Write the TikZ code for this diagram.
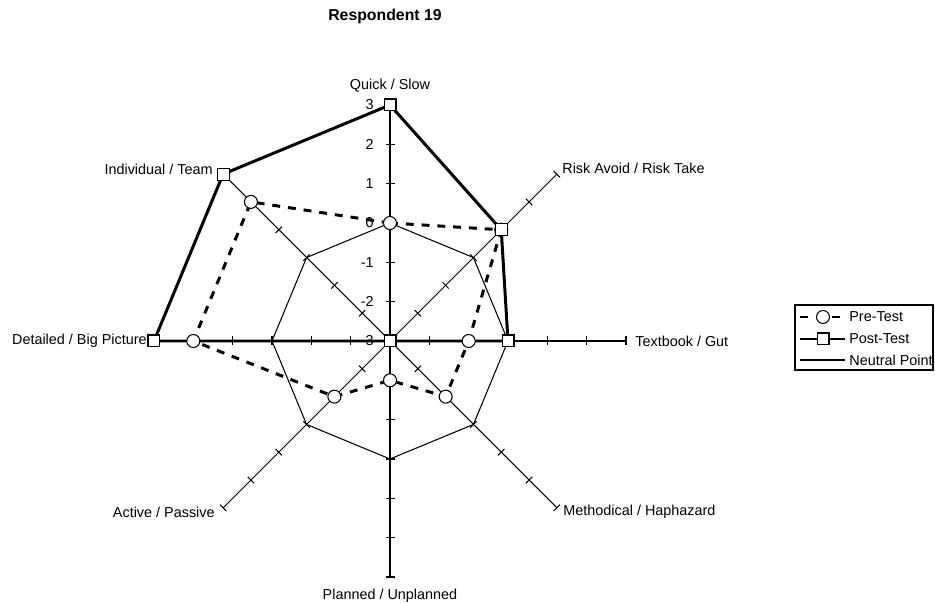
\documentclass[tikz,border=0pt]{standalone}
\usepackage{fontspec}
\setmainfont{Liberation Sans}
\begin{document}
\begin{tikzpicture}[x=0.02cm,y=0.02cm,
    font=\fontsize{8.2}{10}\selectfont,
    axis/.style={line width=0.6pt},
    neutral/.style={line width=0.6pt},
    pretest/.style={line width=1.7pt,dash pattern=on 4.5pt off 4.5pt},
    posttest/.style={line width=1.7pt},
    premark/.style={circle,draw,fill=white,line width=0.6pt,inner sep=0pt,minimum size=7.4pt},
    postmark/.style={rectangle,draw,fill=white,line width=0.6pt,inner sep=0pt,minimum size=6.8pt},
    axlabel/.style={inner sep=0pt}]

      \useasboundingbox (-390,-263) rectangle (545,341);

      \node[font=\fontsize{9}{11}\selectfont\bfseries] (title) at (-5,325) {Respondent 19};

      % axes
      \coordinate (o) at (0,0);
      \coordinate (quick)  at (90:236);
      \coordinate (risk)   at (45:236);
      \coordinate (book)   at (0:236);
      \coordinate (method) at (-45:236);
      \coordinate (plan)   at (-90:236);
      \coordinate (active) at (-135:236);
      \coordinate (detail) at (180:236);
      \coordinate (indiv)  at (135:236);

      \begin{scope}[every path/.style={axis}]
        \path (o) edge (quick);
        \path (o) edge (risk);
        \path (o) edge (book);
        \path (o) edge (method);
        \path (o) edge (plan);
        \path (o) edge (active);
        \path (o) edge (detail);
        \path (o) edge (indiv);
      \end{scope}
      \foreach \a in {0,45,...,315}
        \foreach \k in {1,...,6}
          \draw[axis,rotate=\a] (\k*39.33,-4.5) -- (\k*39.33,4.5);

      \foreach \v in {-3,...,3}
        \node[axlabel,anchor=east] at (-16,{(\v+3)*39.33}) {\v};

      \begin{scope}[every node/.style={axlabel}]
        \node (lquick)  at (0,255) {Quick / Slow};
        \node[anchor=west] (lrisk)   at (172,173)  {Risk Avoid / Risk Take};
        \node[anchor=west] (lbook)   at (245,0)    {Textbook / Gut};
        \node[anchor=west] (lmethod) at (173,-171) {Methodical / Haphazard};
        \node (lplan)   at (0,-255) {Planned / Unplanned};
        \node[anchor=east] (lactive) at (-175,-171) {Active / Passive};
        \node[anchor=east] (ldetail) at (-243,0)    {Detailed / Big Picture};
        \node[anchor=east] (lindiv)  at (-177,172)  {Individual / Team};
      \end{scope}

      % neutral point
      \coordinate (n1) at (90:118);
      \coordinate (n2) at (45:118);
      \coordinate (n3) at (0:118);
      \coordinate (n4) at (-45:118);
      \coordinate (n5) at (-90:118);
      \coordinate (n6) at (-135:118);
      \coordinate (n7) at (180:118);
      \coordinate (n8) at (135:118);
      \draw[neutral] (n1) -- (n2) -- (n3) -- (n4) -- (n5) -- (n6) -- (n7) -- (n8) -- cycle;

      % pre-test
      \coordinate (p1) at (90:118);
      \coordinate (p2) at (45:157.3);
      \coordinate (p3) at (0:78.7);
      \coordinate (p4) at (-45:78.7);
      \coordinate (p5) at (-90:39.3);
      \coordinate (p6) at (-135:78.7);
      \coordinate (p7) at (180:196.7);
      \coordinate (p8) at (135:196.7);
      \draw[pretest] (p1) -- (p2) -- (p3) -- (p4) -- (p5) -- (p6) -- (p7) -- (p8) -- cycle;

      % post-test
      \coordinate (s1) at (90:236);
      \coordinate (s2) at (45:157.3);
      \coordinate (s3) at (0:118);
      \coordinate (s4) at (0,0);
      \coordinate (s5) at (0,0);
      \coordinate (s6) at (0,0);
      \coordinate (s7) at (180:236);
      \coordinate (s8) at (135:236);
      \draw[posttest] (s1) -- (s2) -- (s3) -- (s4) -- (s5) -- (s6) -- (s7) -- (s8) -- cycle;

      \foreach \i in {1,...,8}
        \node[premark] at (p\i) {};
      \foreach \i in {1,...,8}
        \node[postmark] at (s\i) {};

      % legend
      \draw[axis] (405,-29) rectangle (543,36);
      \coordinate (la) at (410,24);
      \coordinate (lb) at (455,24);
      \coordinate (lc) at (410,2);
      \coordinate (ld) at (455,2);
      \coordinate (le) at (410,-19);
      \coordinate (lf) at (455,-19);
      \draw[pretest] (la) -- (lb);
      \draw[posttest] (lc) -- (ld);
      \draw[neutral] (le) -- (lf);
      \node[premark] (lpre) at (433,24) {};
      \node[postmark] (lpost) at (433,2) {};
      \begin{scope}[every node/.style={axlabel,anchor=west}]
        \node (tpre)  at (459,24)  {Pre-Test};
        \node (tpost) at (459,2)   {Post-Test};
        \node (tneu)  at (459,-19) {Neutral Point};
      \end{scope}

    \end{tikzpicture}
\end{document}
